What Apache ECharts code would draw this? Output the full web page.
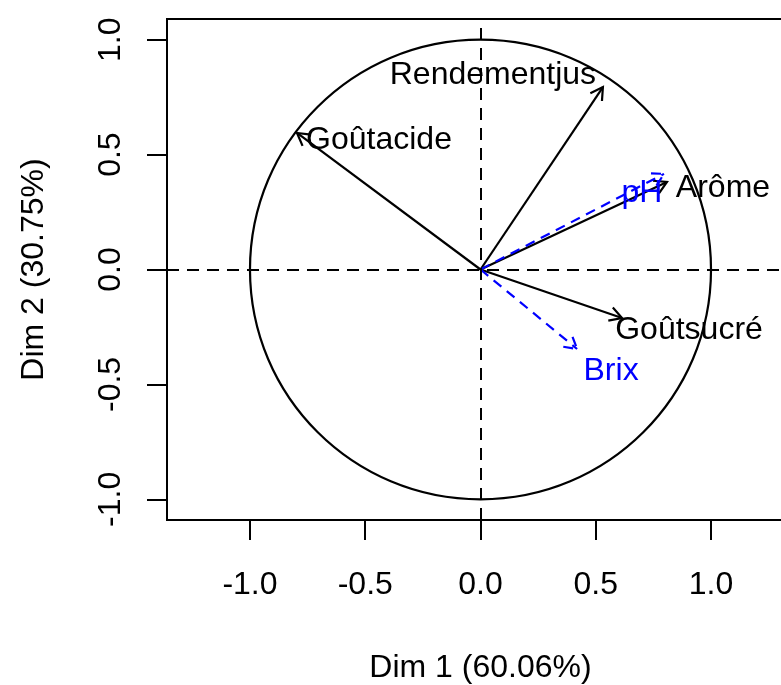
<!DOCTYPE html>
<html>
<head>
<meta charset="utf-8">
<script src="https://cdn.jsdelivr.net/npm/echarts@6.0.0/dist/echarts.min.js"></script>
<style>
html,body{margin:0;padding:0;background:#fff;}
#chart{width:781px;height:685px;}
</style>
</head>
<body>
<div id="chart"></div>
<script>
// ---- data ----
const variables = ['Rendementjus', 'Goûtacide', 'Arôme', 'Goûtsucré', 'pH', 'Brix'];
const dim1 = [0.531, -0.796, 0.809, 0.614, 0.796, 0.419];
const dim2 = [0.794, 0.594, 0.381, -0.211, 0.416, -0.346];
const supplementary = [false, false, false, false, true, true];
const xTicks = [-1.0, -0.5, 0.0, 0.5, 1.0];
const yTicks = [-1.0, -0.5, 0.0, 0.5, 1.0];
const xTitle = 'Dim 1 (60.06%)';
const yTitle = 'Dim 2 (30.75%)';
const circleRadius = [1];

// ---- styling / layout (not data) ----
const FONT = '"Liberation Sans", Arial, sans-serif';
const FS = 32;
const labelOffsets = {
  'Rendementjus': [-110, -12],
  'Goûtacide': [82, 7],
  'Arôme': [56, 6],
  'Goûtsucré': [67, 12],
  'pH': [-22, 19],
  'Brix': [34, 22]
};

const arrowData = variables.map((v, i) => [dim1[i], dim2[i], v, supplementary[i] ? 1 : 0]);

const chart = echarts.init(document.getElementById('chart'), null, {renderer: 'canvas'});

function renderArrow(params, api) {
  const x = api.value(0), y = api.value(1);
  const name = variables[params.dataIndex];
  const sup = api.value(3) === 1;
  const color = sup ? '#0000FF' : '#000000';
  const p0 = api.coord([0, 0]);
  const p1 = api.coord([x, y]);
  const ang = Math.atan2(p1[1] - p0[1], p1[0] - p0[0]);
  const L = 14, a = Math.PI / 6;
  const h1 = [p1[0] - L * Math.cos(ang - a), p1[1] - L * Math.sin(ang - a)];
  const h2 = [p1[0] - L * Math.cos(ang + a), p1[1] - L * Math.sin(ang + a)];
  const dash = sup ? [10, 7] : null;
  const off = labelOffsets[name] || [0, 0];
  return {
    type: 'group',
    children: [
      {type: 'line', shape: {x1: p0[0], y1: p0[1], x2: p1[0], y2: p1[1]},
       style: {stroke: color, lineWidth: 2.2, lineDash: dash}},
      {type: 'polyline', shape: {points: [h1, p1, h2]},
       style: {stroke: color, lineWidth: 2.2, fill: null, lineDash: dash}},
      {type: 'text', z2: 10,
       style: {text: name, x: p1[0] + off[0], y: p1[1] + off[1], fill: color,
               font: FS + 'px ' + FONT, align: 'center', verticalAlign: 'middle'}}
    ]
  };
}

function renderCircle(params, api) {
  const c = api.coord([api.value(0), api.value(1)]);
  const s = api.size([api.value(2), api.value(2)]);
  return {type: 'ellipse', shape: {cx: c[0], cy: c[1], rx: s[0], ry: s[1]},
          style: {stroke: '#000', lineWidth: 2.2, fill: null}};
}

const axisCommon = {
  type: 'value',
  splitLine: {show: false},
  axisLine: {show: false, onZero: false},
  axisTick: {show: true, inside: false, length: 20, lineStyle: {color: '#000', width: 2}},
};

chart.setOption({
  animation: false,
  backgroundColor: '#fff',
  grid: {left: 167, right: -13, top: 19, bottom: 165, show: true,
         borderColor: '#000', borderWidth: 2, containLabel: false, outerBoundsMode: 'none'},
  xAxis: Object.assign({}, axisCommon, {
    position: 'bottom',
    min: -1.36, max: 1.36,
    axisTick: Object.assign({}, axisCommon.axisTick, {customValues: xTicks}),
    axisLabel: {customValues: xTicks, formatter: v => v.toFixed(1), color: '#000',
                fontSize: FS, fontFamily: FONT, margin: 49},
    name: xTitle, nameLocation: 'middle', nameGap: 132,
    nameTextStyle: {color: '#000', fontSize: FS, fontFamily: FONT}
  }),
  yAxis: Object.assign({}, axisCommon, {
    position: 'left',
    min: -1.09, max: 1.09,
    axisTick: Object.assign({}, axisCommon.axisTick, {customValues: yTicks}),
    axisLabel: {customValues: yTicks, formatter: v => v.toFixed(1), color: '#000',
                fontSize: FS, fontFamily: FONT, margin: 40, rotate: 90},
    name: yTitle, nameLocation: 'middle', nameGap: 117,
    nameTextStyle: {color: '#000', fontSize: FS, fontFamily: FONT}
  }),
  series: [
    {
      type: 'custom', renderItem: renderCircle, data: [[0, 0, circleRadius[0]]],
      silent: true, z: 1,
      markLine: {
        silent: true, symbol: ['none', 'none'], label: {show: false},
        lineStyle: {color: '#000', type: [12, 8], width: 2},
        data: [{xAxis: 0}, {yAxis: 0}]
      }
    },
    {
      type: 'custom', renderItem: renderArrow, data: arrowData, silent: true, z: 3,
      clip: false
    }
  ]
});
</script>
</body>
</html>
